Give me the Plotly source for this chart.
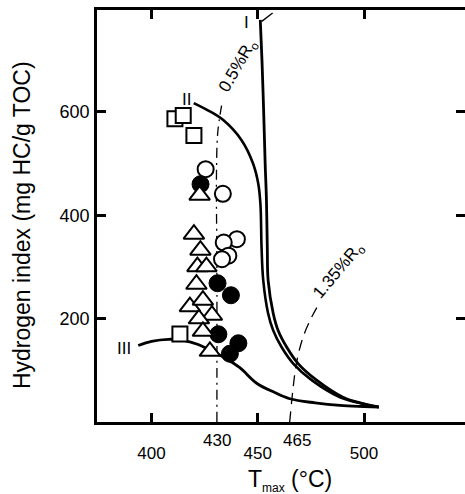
import plotly.graph_objects as go

# ---- data ----
type1_x = [451.2, 452.0, 452.8, 453.5, 454.1, 454.5, 454.9, 457.3, 459.6, 463.6, 469.0, 477.7, 490.1, 500.0, 507.0]
type1_y = [778, 700, 600, 500, 430, 338, 274, 210, 177, 145, 113, 81, 48, 35, 29]

type2_x = [419.9, 427.0, 433.8, 442.4, 447.8, 450.3, 451.3, 451.8, 452.6, 454.9, 457.3, 461.2, 466.7, 475.4, 488.7, 500.0, 506.7]
type2_y = [617, 602, 584, 545, 500, 460, 420, 338, 274, 210, 177, 145, 113, 81, 48, 35, 29]

type3_x = [393.8, 400, 408, 415, 422, 428, 435, 441.6, 449.5, 458, 465.1, 477, 488.7, 500, 507.0]
type3_y = [148, 156, 160, 158, 150, 138, 123, 105, 75, 57, 45, 37, 32, 30, 29]

ro05_x = [430.8, 430.8, 430.6, 431.2, 433.0]
ro05_y = [0, 300, 480, 560, 612]
ro05_tip_x = [451.9, 457.0]
ro05_tip_y = [775, 791]

ro135_x = [465.0, 465.1, 466.7, 468.3, 471.4, 475.4, 479.3]
ro135_y = [0, 3, 68, 116, 165, 203, 232]

open_sq_x = [411.05, 414.96, 419.99, 413.4]
open_sq_y = [586.4, 593.0, 554.3, 170.3]

open_circ_x = [425.5, 433.6, 440.2, 434.0, 436.2, 433.2]
open_circ_y = [489, 441.5, 353.6, 347.2, 321.7, 314.9]

fill_circ_x = [423.1, 431.1, 437.4, 431.5, 440.9, 436.9]
fill_circ_y = [460, 268.4, 245.2, 169.7, 152.3, 132]

tri_x = [422.67, 419.99, 423.05, 421.64, 425.87, 421.17, 418.11, 424.22, 428.46, 422.34, 424.22, 427.5]
tri_y = [438.8, 363.3, 332.3, 300.4, 300.4, 266.5, 223.0, 235.6, 206.5, 199.7, 175.5, 136.8]

x_ticks = [400, 450, 500]
y_ticks = [200, 400, 600]
x_extra_ticks = [431, 468.3]
x_extra_labels = ["430", "465"]

FONT = "Arial, Liberation Sans, sans-serif"

fig = go.Figure()

fig.add_trace(go.Scatter(x=type3_x, y=type3_y, mode="lines", line=dict(color="black", width=2.8, shape="spline")))
fig.add_trace(go.Scatter(x=type2_x, y=type2_y, mode="lines", line=dict(color="black", width=2.6, shape="spline")))
fig.add_trace(go.Scatter(x=type1_x, y=type1_y, mode="lines", line=dict(color="black", width=2.8, shape="spline")))
fig.add_trace(go.Scatter(x=ro05_x, y=ro05_y, mode="lines",
                         line=dict(color="black", width=1.3, dash="10px,5px,2px,5px", shape="spline")))
fig.add_trace(go.Scatter(x=ro05_tip_x, y=ro05_tip_y, mode="lines", line=dict(color="black", width=1.3)))
fig.add_trace(go.Scatter(x=ro135_x, y=ro135_y, mode="lines",
                         line=dict(color="black", width=1.3, dash="11px,7px", shape="spline")))

mk_line = dict(color="black", width=2)
fig.add_trace(go.Scatter(x=open_circ_x, y=open_circ_y, mode="markers",
                         marker=dict(symbol="circle", size=16, color="white", line=mk_line)))
fig.add_trace(go.Scatter(x=fill_circ_x, y=fill_circ_y, mode="markers",
                         marker=dict(symbol="circle", size=17, color="black", line=dict(color="black", width=1))))
fig.add_trace(go.Scatter(x=tri_x, y=tri_y, mode="markers",
                         marker=dict(symbol="triangle-up", size=18, color="white", line=mk_line)))
fig.add_trace(go.Scatter(x=open_sq_x, y=open_sq_y, mode="markers",
                         marker=dict(symbol="square", size=15, color="white", line=mk_line)))

# dummy trace for the right-hand tick axis
fig.add_trace(go.Scatter(x=[400], y=[0], yaxis="y2", mode="markers", opacity=0,
                         marker=dict(size=1), hoverinfo="skip"))

ann = []
def label(text, x, y, size=17, angle=0, xref="x", yref="y"):
    ann.append(dict(text=text, x=x, y=y, xref=xref, yref=yref, showarrow=False,
                    textangle=angle, font=dict(family=FONT, size=size, color="black"),
                    xanchor="center", yanchor="middle"))

label("I", 444.9, 773.5)
label("II", 416.5, 623.6)
label("III", 387.1, 142.6)
label("0.5%R<sub>o</sub>", 441.2, 688, size=17, angle=-60)
label("1.35%R<sub>o</sub>", 488.2, 293, size=17, angle=-50)
for xv, tx in zip(x_extra_ticks, x_extra_labels):
    label(tx, xv, -0.0437, size=17, yref="paper")
label("Hydrogen index (mg HC/g TOC)", -0.2038, 0.478, size=23, angle=-90, xref="paper", yref="paper")
label("T<sub><span style='font-size:12px'>max</span></sub> (°C)", 0.5245, -0.143, size=23,
      xref="paper", yref="paper")

fig.update_layout(
    width=465, height=494,
    margin=dict(l=97, r=0, t=10, b=72),
    paper_bgcolor="white", plot_bgcolor="white",
    showlegend=False,
    font=dict(family=FONT, size=17, color="black"),
    annotations=ann,
    xaxis=dict(range=[374.4, 547.5], tickvals=x_ticks, ticktext=[str(v) for v in x_ticks],
               ticks="inside", ticklen=9, tickwidth=2.5, tickcolor="black",
               showline=True, linewidth=2.5, linecolor="black", mirror="ticks",
               showgrid=False, zeroline=False, ticklabelstandoff=14,
               tickfont=dict(family=FONT, size=17)),
    yaxis=dict(range=[0, 797], tickvals=y_ticks,
               ticks="inside", ticklen=9, tickwidth=2.5, tickcolor="black",
               showline=True, linewidth=2.5, linecolor="black", mirror=False,
               showgrid=False, zeroline=False, ticklabelstandoff=1,
               tickfont=dict(family=FONT, size=18)),
    yaxis2=dict(range=[0, 797], tickvals=y_ticks, overlaying="y", side="right",
                ticks="inside", ticklen=9, tickwidth=2.5, tickcolor="black",
                showline=False, showticklabels=False, showgrid=False, zeroline=False),
)

fig.write_html("out.html", config={"displayModeBar": False},
               post_script="document.body.style.margin='0';document.body.style.overflow='hidden';")
